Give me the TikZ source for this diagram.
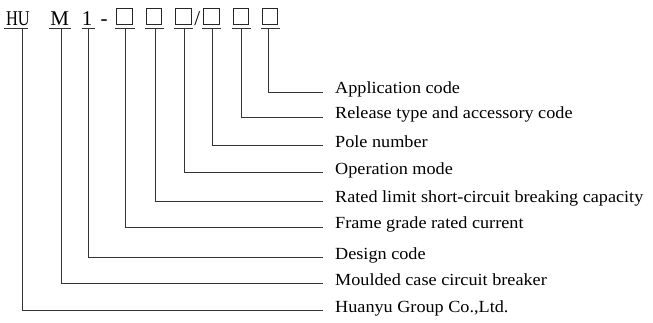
\documentclass[tikz,border=0pt]{standalone}
\usepackage{fontspec}
\setmainfont{Liberation Serif}
\newfontfamily\labfont[FakeStretch=1.07]{Liberation Serif}
\newfontfamily\narrowfont[FakeStretch=0.78]{Liberation Serif}
\begin{document}
\begin{tikzpicture}[x=1pt,y=-1pt,
  conn/.style={draw=black!80,line width=0.75pt},
  ul/.style={draw=black!80,line width=0.75pt},
  code/.style={anchor=base,inner sep=0pt,font=\fontsize{21}{23}\selectfont},
  narrowcode/.style={anchor=base,inner sep=0pt,font=\narrowfont\fontsize{21}{23}\selectfont},
  boxnode/.style={draw=black!85,line width=0.7pt,minimum width=15.5pt,minimum height=15.5pt,inner sep=0pt},
  lab/.style={anchor=west,inner sep=0pt,text height=0.52em,text depth=0.2em,font=\labfont\fontsize{17}{20}\selectfont}]
\useasboundingbox (0,0) rectangle (653,322);
% code letters
\node[narrowcode] (hu) at (18,25) {HU};
\node[code] (m) at (59.6,25) {M};
\node[code] (one) at (87.2,25) {1};
\node[code] (dash) at (104,25) {-};
\node[boxnode] (b1) at (124.5,16.5) {};
\node[boxnode] (b2) at (154,16.5) {};
\node[boxnode] (b3) at (183.5,16.5) {};
\node[code] (slash) at (197.3,25) {/};
\node[boxnode] (b4) at (211.5,16.5) {};
\node[boxnode] (b5) at (241,16.5) {};
\node[boxnode] (b6) at (270,16.5) {};
% underlines
\draw[ul] (4,28) -- (28.3,28);
\draw[ul] (49.3,28) -- (71,28);
\draw[ul] (81.7,28) -- (95,28);
\draw[ul] (115,28) -- (134.5,28);
\draw[ul] (144.5,28) -- (163.5,28);
\draw[ul] (174,28) -- (193,28);
\draw[ul] (202,28) -- (221,28);
\draw[ul] (231.5,28) -- (250.5,28);
\draw[ul] (260.5,28) -- (279.5,28);
% tick points
\coordinate (t1) at (22.7,28);
\coordinate (t2) at (61.3,28);
\coordinate (t3) at (88.3,28);
\coordinate (t4) at (125.3,28);
\coordinate (t5) at (155,28);
\coordinate (t6) at (184,28);
\coordinate (t7) at (212,28);
\coordinate (t8) at (241.5,28);
\coordinate (t9) at (268.5,28);
% labels
\node[lab] (l9) at (335,92.3) {Application code};
\node[lab] (l8) at (335,117) {Release type and accessory code};
\node[lab] (l7) at (335,145.7) {Pole number};
\node[lab] (l6) at (335,172.7) {Operation mode};
\node[lab] (l5) at (335,201) {Rated limit short-circuit breaking capacity};
\node[lab] (l4) at (335,227.3) {Frame grade rated current};
\node[lab] (l3) at (335,257.7) {Design code};
\node[lab] (l2) at (335,283.7) {Moulded case circuit breaker};
\node[lab] (l1) at (335,310.7) {Huanyu Group Co.,Ltd.};
% connectors
\foreach \i in {1,...,9}{
  \draw[conn] (t\i) |- ([xshift=-12.3pt]l\i.west);
}
\end{tikzpicture}
\end{document}
